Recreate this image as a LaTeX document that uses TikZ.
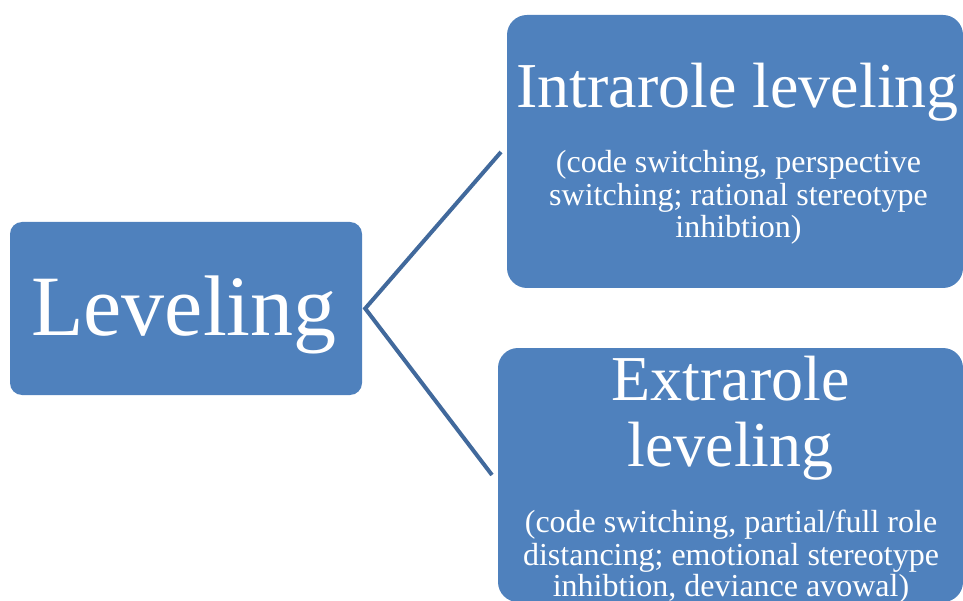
\documentclass[tikz,border=0pt]{standalone}
\usepackage{fontspec}
\setmainfont{Liberation Serif}
\definecolor{boxblue}{RGB}{79,129,189}
\definecolor{linkblue}{RGB}{65,105,156}
\begin{document}
\begin{tikzpicture}[x=1pt,y=-1pt,
  box/.style={rectangle, fill=boxblue, draw=none, inner sep=0pt},
  big/.style={anchor=base, text=white, inner sep=0pt, font=\fontsize{64}{66}\selectfont},
  small/.style={anchor=base, text=white, inner sep=0pt, font=\fontsize{32}{33}\selectfont},
  link/.style={draw=linkblue, line width=4pt, line join=miter}]
\useasboundingbox (0,0) rectangle (963,601);
% boxes
\node[box, rounded corners=12pt, minimum width=352pt, minimum height=173pt] (L) at (186,308.5) {};
\node[box, rounded corners=20pt, minimum width=456pt, minimum height=273pt] (T) at (735,151.5) {};
\node[box, rounded corners=20pt, minimum width=465pt, minimum height=254pt] (B) at (730.5,475) {};
% texts
\node[anchor=base, text=white, inner sep=0pt, font=\fontsize{86}{90}\selectfont] (Lt) at (184,335) {Leveling};
\node[big] (T1) at (737.5,108) {Intrarole leveling};
\node[small] (T2) at (738.5,173) {(code switching, perspective};
\node[small] (T3) at (738.5,206) {switching; rational stereotype};
\node[small] (T4) at (738.5,238) {inhibtion)};
\node[big] (B1) at (730.5,400) {Extrarole};
\node[big] (B2) at (730.5,466) {leveling};
\node[small] (B3) at (731,532) {(code switching, partial/full role};
\node[small] (B4) at (731,565) {distancing; emotional stereotype};
\node[small] (B5) at (731,596) {inhibtion, deviance avowal)};
% connectors
\coordinate (v) at ([xshift=3pt]L.east);
\coordinate (eT) at (501,152);
\coordinate (eB) at (492,475);
\draw[link] (eT) -- (v) -- (eB);
\end{tikzpicture}
\end{document}
